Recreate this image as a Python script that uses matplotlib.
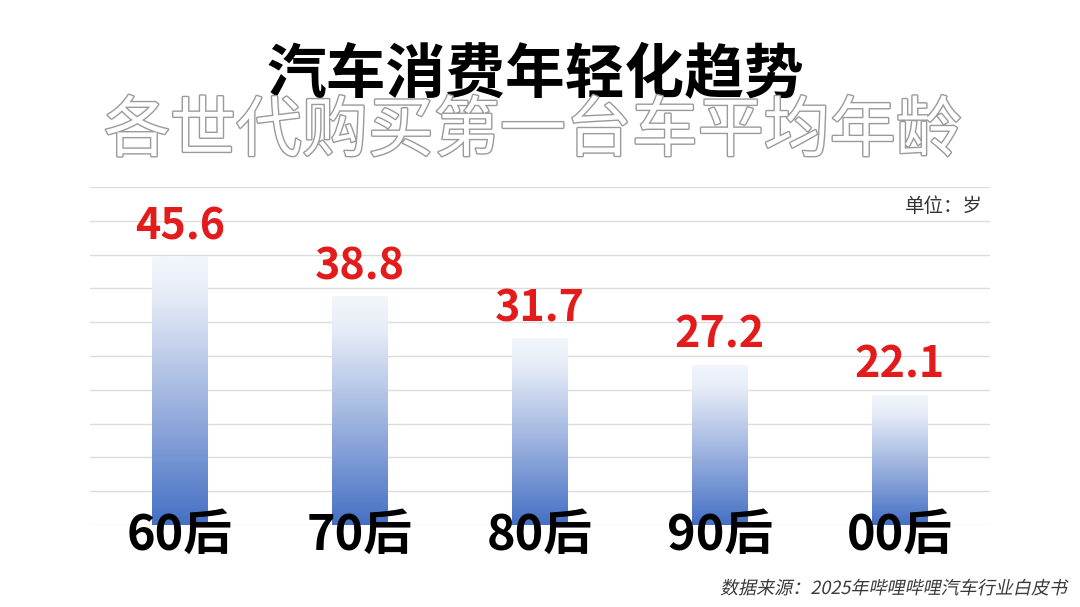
import numpy as np
import matplotlib
matplotlib.use("Agg")
import matplotlib.pyplot as plt
import matplotlib.patheffects as pe
from matplotlib.patheffects import AbstractPathEffect
from matplotlib.transforms import Affine2D, blended_transform_factory
from matplotlib.colors import LinearSegmentedColormap

plt.rcParams['font.family'] = ['Noto Sans CJK SC', 'DejaVu Sans']

categories = ["60后", "70后", "80后", "90后", "00后"]
ages = [45.6, 38.8, 31.7, 27.2, 22.1]
value_labels = ["45.6", "38.8", "31.7", "27.2", "22.1"]

title = "汽车消费年轻化趋势"
subtitle = "各世代购买第一台车平均年龄"
unit_text = "单位：岁"
source_text = "数据来源：2025年哔哩哔哩汽车行业白皮书"


class Skew(AbstractPathEffect):
    def __init__(self, deg):
        super().__init__()
        self.t = Affine2D().skew_deg(deg, 0)

    def draw_path(self, renderer, gc, tpath, affine, rgbFace=None):
        renderer.draw_path(gc, tpath, self.t + affine, rgbFace)


fig = plt.figure(figsize=(10.8, 6.07), dpi=100)
fig.patch.set_facecolor("white")
ax = fig.add_axes([90 / 1080, 82 / 607, 900 / 1080, 338 / 607])

x = np.arange(len(categories))
bars = ax.bar(x, ages, width=0.31, facecolor="none", edgecolor="none", zorder=2)

cmap = LinearSegmentedColormap.from_list(
    "g", [(0.0, "#4470c4"), (0.45, "#9db3df"), (0.85, "#e6ecf7"), (1.0, "#f3f6fc")])
grad = np.linspace(0, 1, 256).reshape(-1, 1)
for b in bars:
    x0, y0 = b.get_x(), b.get_y()
    w, h = b.get_width(), b.get_height()
    im = ax.imshow(grad, cmap=cmap, aspect="auto", origin="lower",
                   extent=[x0, x0 + w, y0, y0 + h], zorder=2)
    im.set_clip_path(b)

ax.set_xlim(-0.5, len(categories) - 0.5)
ax.set_ylim(0, 57.3)
ax.set_yticks(np.linspace(0, 57.3, 11))
ax.yaxis.grid(True, color="#dcdcdc", linewidth=1.0, zorder=0)
ax.set_axisbelow(True)
ax.tick_params(left=False, bottom=False, labelleft=False, labelbottom=False)
for s in ax.spines.values():
    s.set_visible(False)

for xi, v, lab in zip(x, ages, value_labels):
    ax.annotate(lab, (xi, v), xytext=(0, 12), textcoords="offset points",
                ha="center", va="baseline", fontsize=31, fontweight="bold",
                color="#e31b1b", zorder=3)

trans = blended_transform_factory(ax.transData, fig.transFigure)
for xi, c in zip(x, categories):
    ax.text(xi, (607 - 550) / 607, c, transform=trans, ha="center", va="baseline",
            fontsize=35, fontweight="black", color="black", zorder=4)

fig.text(535 / 1080, 1 - 75 / 607, title, ha="center", va="center",
         fontsize=43, fontweight="black", color="black")

fig.text(533 / 1080, 1 - 132 / 607, subtitle, ha="center", va="center",
         fontsize=47.5, fontweight="regular", color="white",
         path_effects=[pe.withStroke(linewidth=2.0, foreground="#9a9a9a")])

fig.text(983 / 1080, 1 - 207 / 607, unit_text, ha="right", va="center",
         fontsize=14, color="#333333")

fig.text(1066 / 1080, 1 - 589 / 607, source_text, ha="right", va="center",
         fontsize=13, color="#3a3a3a", path_effects=[Skew(12)])

fig.savefig("out.png", dpi=100, facecolor="white")
